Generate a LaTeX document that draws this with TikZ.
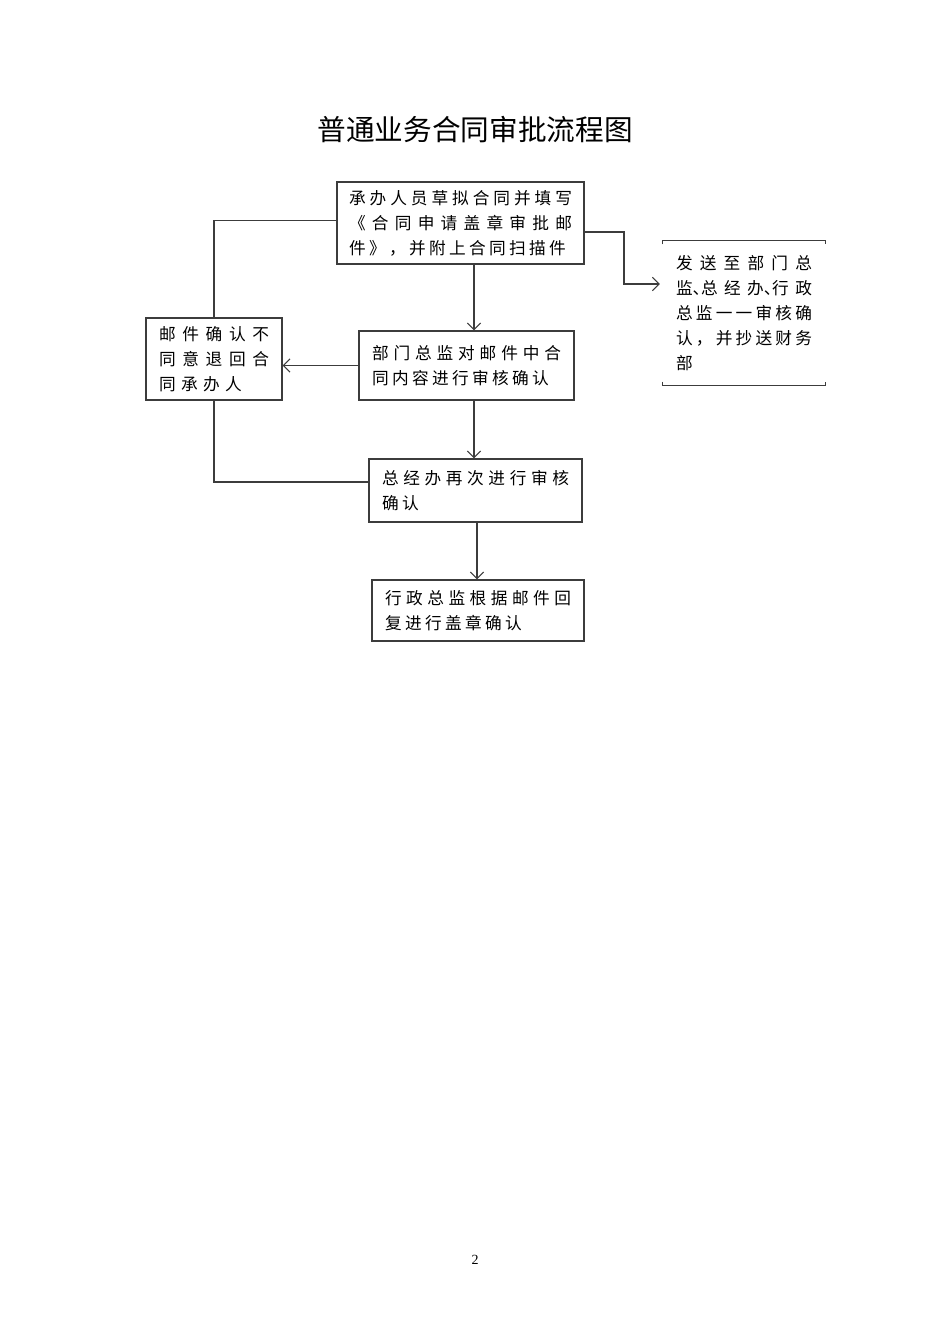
\documentclass[tikz,border=0pt]{standalone}
\usepackage{fontspec}
\usepackage{tikz}
\usetikzlibrary{arrows.meta,positioning}
\newfontfamily\titlefont{Noto Sans CJK SC}
\newfontfamily\boxfont{Noto Sans CJK SC}
\setmainfont{Liberation Serif}
\definecolor{flowline}{RGB}{60,60,60}

% stretchable glue between Chinese characters, so box lines run full width
\XeTeXinterchartokenstate=1
\newcount\cjkcount
\cjkcount="4E00
\loop\XeTeXcharclass\cjkcount=1 \advance\cjkcount by 1 \ifnum\cjkcount<"A000 \repeat
\cjkcount="3000
\loop\XeTeXcharclass\cjkcount=1 \advance\cjkcount by 1 \ifnum\cjkcount<"3040 \repeat
\cjkcount="FF00
\loop\XeTeXcharclass\cjkcount=1 \advance\cjkcount by 1 \ifnum\cjkcount<"FFF0 \repeat
\def\cjkglue{}
\XeTeXinterchartoks 1 1 = {\cjkglue}
\newcommand\halfdun{\makebox[0.5em][l]{、}}

\begin{document}
\begin{tikzpicture}[x=0.75pt, y=-0.75pt, >={Straight Barb[length=5pt,width=10pt]},
  stepbox/.style={draw=flowline, line width=0.8pt, align=justify,
                  inner xsep=9.75pt, inner ysep=0pt,
                  font=\boxfont\fontsize{12.5}{18.75}\selectfont,
                  execute at begin node={\parindent=0pt\parfillskip=0pt plus 1fill\relax
                    \def\cjkglue{\hskip 2.5pt plus 1fil minus 2.5pt\relax}}},
  flow/.style={draw=flowline, line width=0.8pt}]
\useasboundingbox (0,0) rectangle (950,1344);

\node[font=\titlefont\fontsize{21.5}{24}\selectfont] (title) at (475,130) {普通业务合同审批流程图};

\node[stepbox, inner xsep=9pt, text width=167.25pt, minimum height=61.5pt] (draft) at (460.5,223)
  {承办人员草拟合同并填写\break 《合同申请盖章审批邮\break 件》，并附上合同扫描件};
\node[stepbox, text width=82.5pt, minimum height=61.5pt,
      execute at begin node={\def\cjkglue{\hskip 4pt plus 1fil minus 2.5pt\relax}}] (reject) at (214,359)
  {邮件确认不\break 同意退回合\break 同承办人};
\node[stepbox, text width=141.75pt, minimum height=51.75pt] (dept) at (466.5,365.5)
  {部门总监对邮件中合\break 同内容进行审核确认};
\node[stepbox, text width=140.25pt, minimum height=47.25pt] (genoff) at (475.5,490.5)
  {总经办再次进行审核\break 确认};
\node[stepbox, text width=139.5pt, minimum height=45.75pt] (admin) at (478,610.5)
  {行政总监根据邮件回\break 复进行盖章确认};
\node[stepbox, draw=none, text width=102pt, minimum height=108pt] (send) at (744,313)
  {发送至部门总\break 监\halfdun 总经办\halfdun 行政\break 总监一一审核确\break 认，并抄送财务\break 部};

% open box round the note
\draw[flow, line width=1.1pt] ([yshift=-3pt]send.north west) -- (send.north west)
  -- (send.north east) -- ([yshift=-3pt]send.north east);
\draw[flow, line width=1.1pt] ([yshift=3pt]send.south west) -- (send.south west)
  -- (send.south east) -- ([yshift=3pt]send.south east);

\coordinate (col) at (474,0);
\coordinate (col2) at (477,0);
\coordinate (turn) at (624,284);

\draw[flow, ->] (draft.south -| col) -- (dept.north -| col);
\draw[flow, ->] (dept.west) -- (dept.west -| reject.east);
\draw[flow] (reject.north) |- ([yshift=2pt]draft.west);
\draw[flow] (reject.south) |- ([yshift=6.4pt]genoff.west);
\draw[flow, ->] (dept.south -| col) -- (genoff.north -| col);
\draw[flow, ->] (genoff.south -| col2) -- (admin.north -| col2);
\draw[flow, ->] ([yshift=-6.75pt]draft.east) -| (turn) -- ([xshift=-2pt]turn -| send.west);

\node[font=\fontsize{10.5}{12}\selectfont] (page) at (475,1260) {2};
\end{tikzpicture}
\end{document}
